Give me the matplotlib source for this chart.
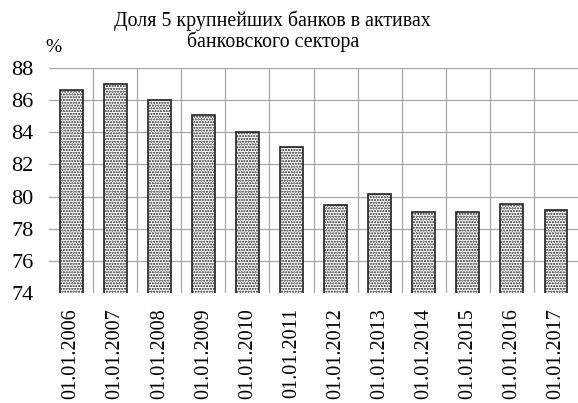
import matplotlib
matplotlib.use("Agg")
import matplotlib.pyplot as plt
import numpy as np

# Доля 5 крупнейших банков, %
dates = ["01.01.2006", "01.01.2007", "01.01.2008", "01.01.2009", "01.01.2010",
         "01.01.2011", "01.01.2012", "01.01.2013", "01.01.2014", "01.01.2015",
         "01.01.2016", "01.01.2017"]
share = [86.65, 87.0, 86.0, 85.05, 84.0, 83.1, 79.45, 80.15, 79.05, 79.05, 79.55, 79.15]
yticks = [74, 76, 78, 80, 82, 84, 86, 88]

plt.rcParams['font.family'] = ['Liberation Serif', 'DejaVu Serif']
plt.rcParams['hatch.linewidth'] = 1.0

fig = plt.figure(figsize=(5.78, 4.03), dpi=100)
ax = fig.add_axes([0.085, 0.273, 0.915, 0.558])

x = np.arange(len(dates))
ax.bar(x, share, width=0.52, color="white", edgecolor="#222222",
       linewidth=1.2, hatch="......", zorder=3)

ax.set_ylim(74, 88)
ax.set_xlim(-0.5, len(dates) - 0.5)
ax.set_yticks(yticks)
ax.set_xticks(x)
ax.set_xticklabels(dates, rotation=90, fontsize=14.5)
ax.tick_params(axis="y", labelsize=16, length=0, pad=11)
ax.tick_params(axis="x", length=0, pad=11)

# сетка: горизонтальные линии и разделители между столбцами
for y in yticks[1:]:
    ax.axhline(y, color="#a6a6a6", linewidth=0.9, zorder=1)
for b in x[:-1] + 0.5:
    ax.axvline(b, color="#a6a6a6", linewidth=0.9, zorder=1)

for s in ax.spines.values():
    s.set_visible(False)

fig.text(0.078, 0.86, "%", fontsize=14, ha="left", va="bottom")
fig.text(0.472, 0.872, "Доля 5 крупнейших банков в активах\nбанковского сектора",
         fontsize=14.3, ha="center", va="bottom", linespacing=1.0)

fig.savefig("out.png", dpi=100)
